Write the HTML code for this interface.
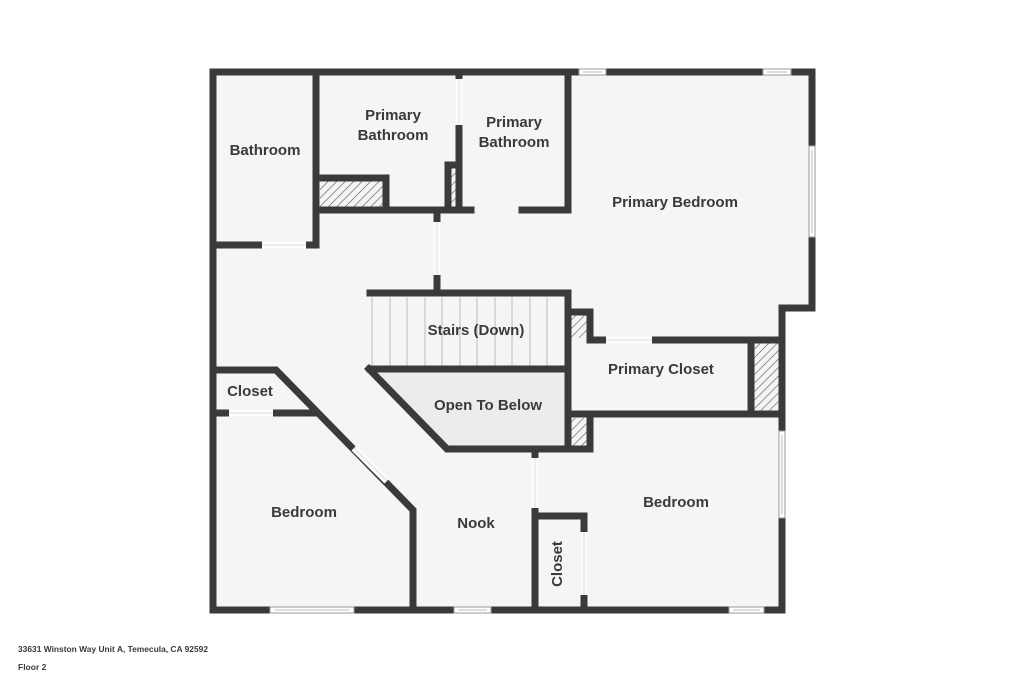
<!DOCTYPE html>
<html><head><meta charset="utf-8"><style>
html,body{margin:0;padding:0;background:#fff;}
svg{display:block;}
text{font-family:"Liberation Sans",sans-serif;font-weight:bold;fill:#3a3a3a;}
</style></head><body>
<svg width="1024" height="683" viewBox="0 0 1024 683" xmlns="http://www.w3.org/2000/svg">
<defs>
<pattern id="h" width="6" height="6" patternUnits="userSpaceOnUse" patternTransform="rotate(45)">
<rect width="6" height="6" fill="#f4f4f4"/><line x1="0" y1="0" x2="0" y2="6" stroke="#555" stroke-width="1.2"/>
</pattern>
</defs>
<rect width="1024" height="683" fill="#fff"/>
<polygon points="213,72 812,72 812,308 782,308 782,610 213,610" fill="#f5f5f5"/>
<polygon points="369,369 568,369 568,449 447,449" fill="#ececec"/>
<rect x="320" y="179" width="66" height="29" fill="url(#h)"/>
<rect x="449" y="165" width="10" height="43" fill="url(#h)"/>
<rect x="571" y="313" width="19" height="25" fill="url(#h)"/>
<rect x="753" y="343" width="26" height="68" fill="url(#h)"/>
<rect x="571" y="418" width="19" height="29" fill="url(#h)"/>
<g stroke="#bbb" stroke-width="1">
<line x1="372" y1="297" x2="372" y2="366"/><line x1="390" y1="297" x2="390" y2="366"/><line x1="407" y1="297" x2="407" y2="366"/><line x1="425" y1="297" x2="425" y2="366"/><line x1="442" y1="297" x2="442" y2="366"/><line x1="460" y1="297" x2="460" y2="366"/><line x1="477" y1="297" x2="477" y2="366"/><line x1="495" y1="297" x2="495" y2="366"/><line x1="512" y1="297" x2="512" y2="366"/><line x1="530" y1="297" x2="530" y2="366"/><line x1="547" y1="297" x2="547" y2="366"/>
</g>
<g stroke="#3a3a3a" stroke-width="7" fill="none" stroke-linecap="square">
<polyline points="213,72 812,72 812,308 782,308 782,610 213,610 213,72"/>
<line x1="316" y1="72" x2="316" y2="245"/>
<line x1="213" y1="245" x2="316" y2="245"/>
<line x1="316" y1="210" x2="471" y2="210"/>
<polyline points="316,178 386,178 386,210"/>
<line x1="459" y1="72" x2="459" y2="210"/>
<polyline points="448,210 448,165 459,165"/>
<line x1="437" y1="210" x2="437" y2="290"/>
<line x1="568" y1="72" x2="568" y2="210"/>
<line x1="522" y1="210" x2="568" y2="210"/>
<line x1="370" y1="293" x2="568" y2="293"/>
<line x1="568" y1="293" x2="568" y2="449"/>
<line x1="370" y1="369" x2="568" y2="369"/>
<polyline points="568,312 590,312 590,340 782,340"/>
<line x1="568" y1="414" x2="782" y2="414"/>
<line x1="751" y1="340" x2="751" y2="414"/>
<polyline points="568,414 590,414 590,449 447,449 369,369"/>
<line x1="535" y1="449" x2="535" y2="610"/>
<polyline points="535,516 584,516 584,610"/>
<polyline points="213,370 276,370 413,510 413,610"/>
<line x1="213" y1="413" x2="316" y2="413"/>
</g>
<g stroke="#fbfbfb" stroke-width="7" stroke-linecap="butt">
<line x1="262" y1="245" x2="306" y2="245"/>
<line x1="459" y1="79" x2="459" y2="125"/>
<line x1="437" y1="222" x2="437" y2="275"/>
<line x1="606" y1="340" x2="652" y2="340"/>
<line x1="535" y1="458" x2="535" y2="508"/>
<line x1="584" y1="532" x2="584" y2="595"/>
<line x1="229" y1="413" x2="273" y2="413"/>
<line x1="354" y1="448" x2="387" y2="481"/>
</g>
<g stroke="#ddd" stroke-width="1">
<line x1="262" y1="245" x2="306" y2="245"/><line x1="459" y1="79" x2="459" y2="125"/><line x1="437" y1="222" x2="437" y2="275"/><line x1="606" y1="340" x2="652" y2="340"/><line x1="535" y1="458" x2="535" y2="508"/><line x1="584" y1="532" x2="584" y2="595"/><line x1="229" y1="413" x2="273" y2="413"/><line x1="354" y1="448" x2="387" y2="481"/>
</g>
<g fill="#fff" stroke="#999" stroke-width="1">
<rect x="579" y="69" width="27" height="6"/><rect x="763" y="69" width="28" height="6"/>
<rect x="809" y="146" width="6" height="91"/>
<rect x="779" y="431" width="6" height="87"/>
<rect x="270" y="607" width="84" height="6"/><rect x="454" y="607" width="37" height="6"/><rect x="729" y="607" width="35" height="6"/>
</g>
<g stroke="#bbb" stroke-width="1">
<line x1="583" y1="72" x2="602" y2="72"/><line x1="767" y1="72" x2="787" y2="72"/><line x1="812" y1="150" x2="812" y2="233"/><line x1="782" y1="435" x2="782" y2="514"/><line x1="275" y1="610" x2="349" y2="610"/><line x1="458" y1="610" x2="487" y2="610"/><line x1="733" y1="610" x2="760" y2="610"/>
</g>
<g font-size="15" text-anchor="middle">
<text x="265" y="155">Bathroom</text>
<text x="393" y="120">Primary</text><text x="393" y="140">Bathroom</text>
<text x="514" y="127">Primary</text><text x="514" y="147">Bathroom</text>
<text x="675" y="207">Primary Bedroom</text>
<text x="476" y="335">Stairs (Down)</text>
<text x="661" y="374">Primary Closet</text>
<text x="488" y="410">Open To Below</text>
<text x="250" y="396">Closet</text>
<text x="304" y="517">Bedroom</text>
<text x="476" y="528">Nook</text>
<text x="676" y="507">Bedroom</text>
<text transform="translate(562,564) rotate(-90)">Closet</text>
</g>
<text x="18" y="652" font-size="8.5" textLength="190" lengthAdjust="spacingAndGlyphs">33631 Winston Way Unit A, Temecula, CA 92592</text>
<text x="18" y="670" font-size="8.5">Floor 2</text>
</svg>
</body></html>
